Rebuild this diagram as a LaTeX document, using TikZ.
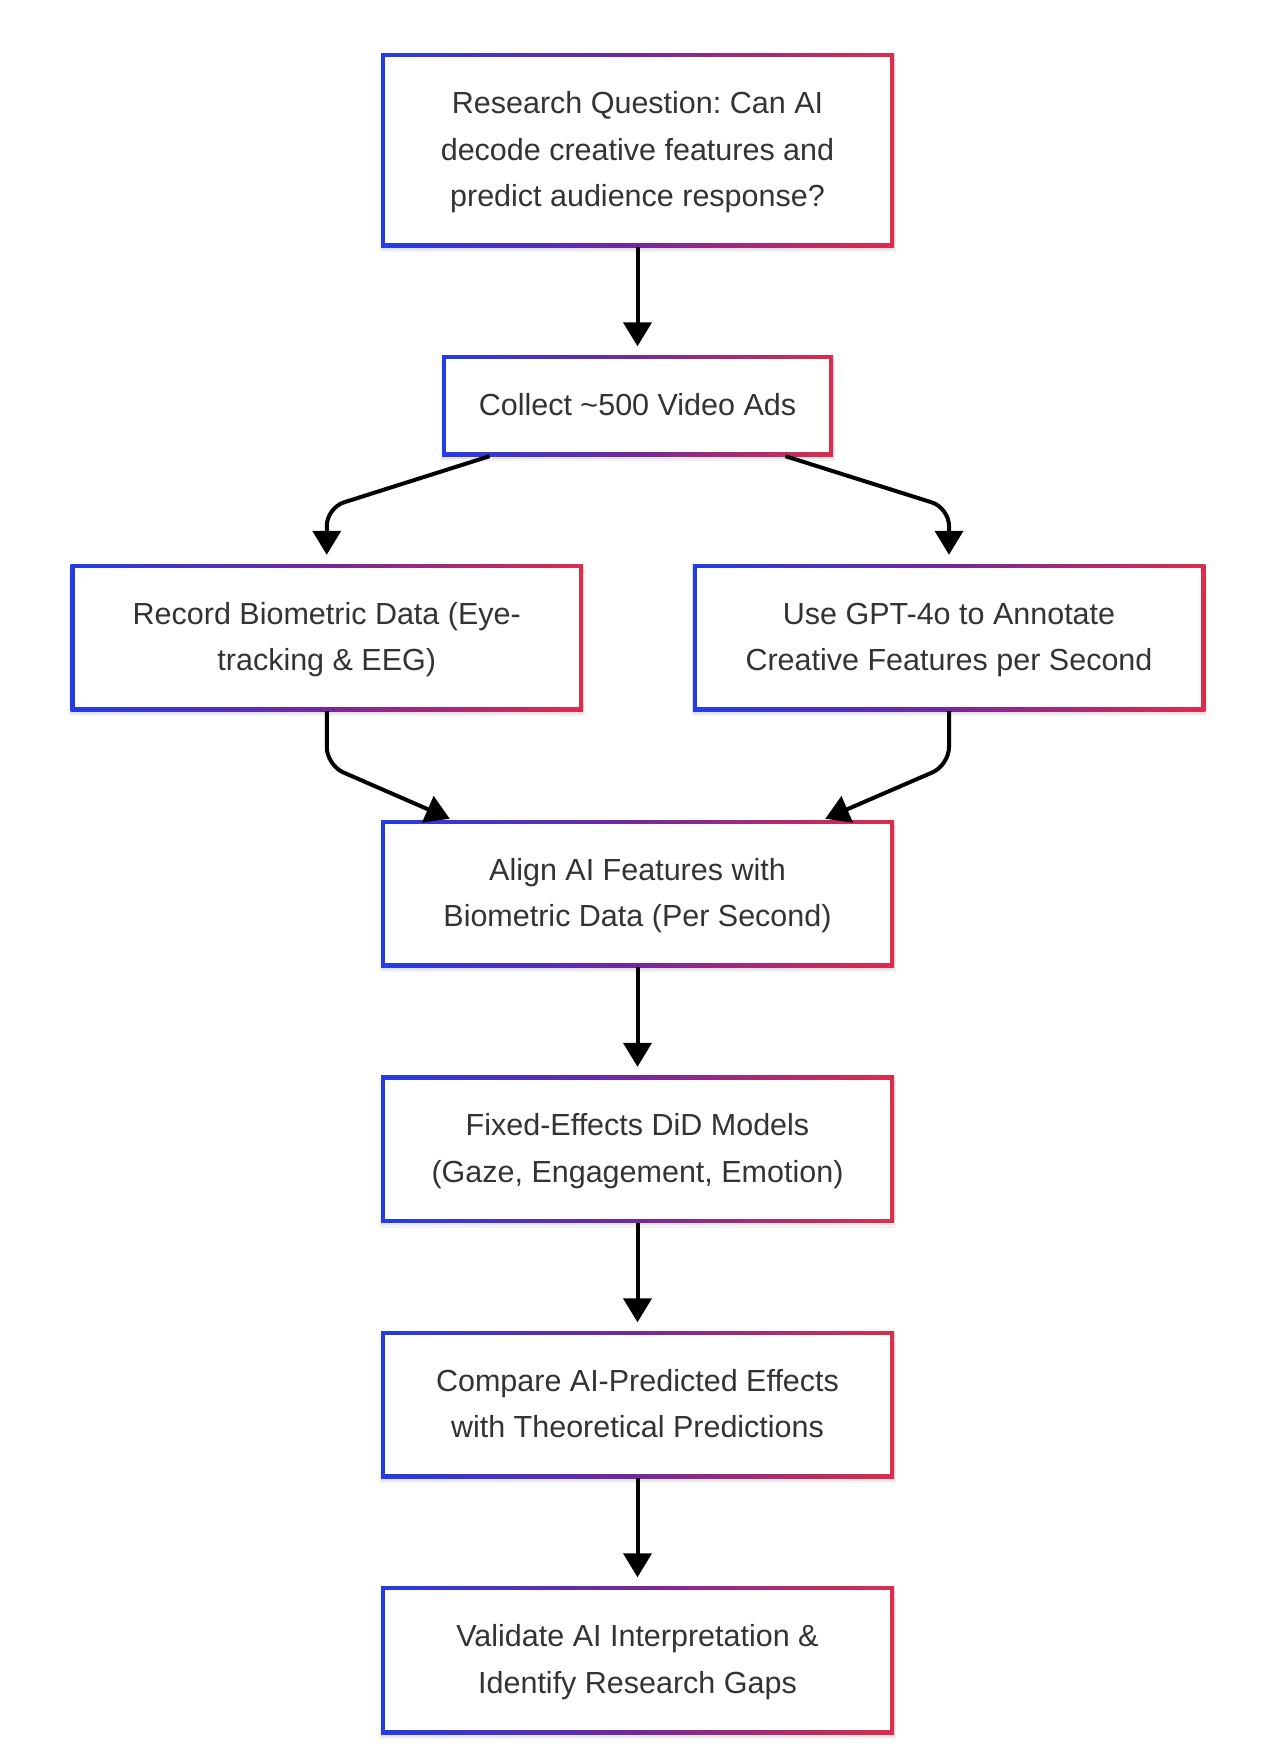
\documentclass[tikz,border=0pt]{standalone}
\usepackage{fontspec}
\setmainfont{Liberation Sans}
\usetikzlibrary{arrows.meta,calc}
\definecolor{bl}{HTML}{233CE6}
\definecolor{pu}{HTML}{75289A}
\definecolor{rd}{HTML}{DC2D4B}
\definecolor{tx}{HTML}{333333}
\newcommand\lnst{\vrule height 33.4pt depth 13.3pt width 0pt}
\pgfdeclarelayer{bg}
\pgfsetlayers{bg,main}
\frenchspacing
\begin{document}
\begin{tikzpicture}[x=1pt,y=-1pt,
  box/.style={inner sep=0pt, minimum width=513pt, left color=bl, right color=rd, middle color=pu,
    text=tx, align=center, font=\fontsize{30.5}{46.7}\selectfont,
    path picture={\fill[white] ([shift={(4pt,4pt)}]path picture bounding box.south west) rectangle ([shift={(-4pt,-4pt)}]path picture bounding box.north east);}},
  conn/.style={line width=4pt, black, -{Triangle[length=24pt,width=28pt]}, rounded corners=18pt}]
\useasboundingbox (0,0) rectangle (1270,1762);

\node[box, minimum height=194pt] (q) at (637.5,150) {\lnst Research Question: Can AI\\\lnst decode creative features and\\\lnst predict audience response?};
\node[box, minimum height=101pt, minimum width=391pt] (c) at (637.5,405.5) {\lnst Collect \textasciitilde500 Video Ads};
\node[box, minimum height=147pt, minimum width=512.5pt] (l) at (326.75,637.5) {\lnst Record Biometric Data (Eye-\\\lnst tracking \& EEG)};
\node[box, minimum height=147pt, minimum width=512.5pt] (r) at (949,637.5) {\lnst Use GPT-4o to Annotate\\\lnst Creative Features per Second};
\node[box, minimum height=147pt] (a) at (637.5,893.5) {\lnst Align AI Features with\\\lnst Biometric Data (Per Second)};
\node[box, minimum height=147pt] (f) at (637.5,1149) {\lnst Fixed-Effects DiD Models\\\lnst (Gaze, Engagement, Emotion)};
\node[box, minimum height=147pt] (m) at (637.5,1404.5) {\lnst Compare AI-Predicted Effects\\\lnst with Theoretical Predictions};
\node[box, minimum height=148pt] (v) at (637.5,1660) {\lnst Validate AI Interpretation \&\\\lnst Identify Research Gaps};

\begin{pgfonlayer}{bg}
\fill[white] (0,0) rectangle (1270,1762);
\foreach \n in {q,c,l,r,a,f,m,v}{
  \fill[black, opacity=0.05] ([shift={(-1pt,-5pt)}]\n.south west) rectangle ([shift={(2pt,-5pt)}]\n.north east);
  \fill[black, opacity=0.06] ([shift={(0pt,-2.5pt)}]\n.south west) rectangle ([shift={(1pt,-2.5pt)}]\n.north east);
}
\end{pgfonlayer}

\draw[conn, shorten >=8.5pt] (q.south) -- (c.north);
\draw[conn, shorten >=9pt] ($(c.south)+(-148,0)$) -- ($(l.north)+(0,-56)$) -- (l.north);
\draw[conn, shorten >=9pt] ($(c.south)+(148,0)$) -- ($(r.north)+(0,-56)$) -- (r.north);
\draw[conn] (l.south) -- ($(l.south)+(0,54)$) -- ($(a.north west)+(69,-1)$);
\draw[conn] (r.south) -- ($(r.south)+(0,54)$) -- ($(a.north east)+(-69,-1)$);
\draw[conn, shorten >=8.5pt] (a.south) -- (f.north);
\draw[conn, shorten >=8.5pt] (f.south) -- (m.north);
\draw[conn, shorten >=8.5pt] (m.south) -- (v.north);
\end{tikzpicture}
\end{document}
